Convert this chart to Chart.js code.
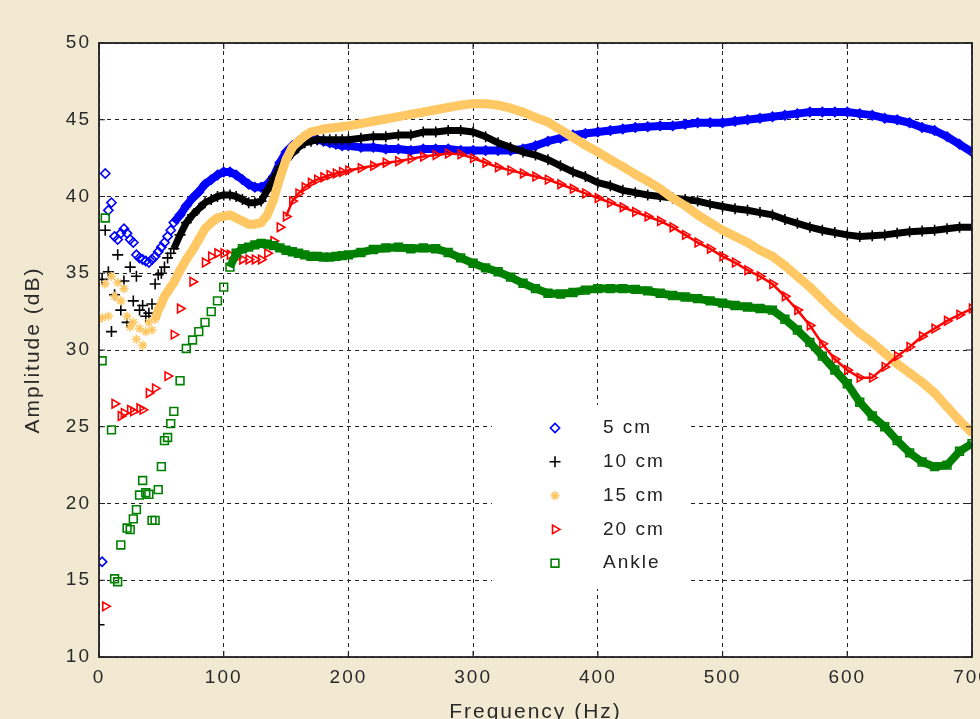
<!DOCTYPE html>
<html>
<head>
<meta charset="utf-8">
<title>Amplitude vs frequency</title>
<script src="https://cdn.jsdelivr.net/npm/chart.js"></script>
<style>
  html, body { margin: 0; padding: 0; background: #f1e9d2; overflow: hidden; }
  #wrap { width: 1010px; height: 719px; }
</style>
</head>
<body>
<div id="wrap"><canvas id="chart" width="1010" height="719"></canvas></div>
<script>
// Frequency grid (Hz), dense below 60 Hz where the points scatter
const freq = [
  0, 2.5, 5, 7.5, 10, 12.5, 15, 17.5, 20, 22.5, 25, 27.5, 30, 32.5, 35, 37.5, 40, 42.5, 45, 47.5, 50, 52.5, 55, 57.5, 60,
  65, 70, 75, 80, 85, 90, 95, 100, 105, 110, 115, 120, 125, 130, 135, 140, 145, 150, 155, 160, 165, 170, 175, 180, 185, 190, 195, 200,
  210, 220, 230, 240, 250, 260, 270, 280, 290, 300, 310, 320, 330, 340, 350, 360, 370, 380, 390, 400,
  410, 420, 430, 440, 450, 460, 470, 480, 490, 500, 510, 520, 530, 540, 550, 560, 570, 580, 590, 600,
  610, 620, 630, 640, 650, 660, 670, 680, 690, 700
];

// Amplitude (dB)
const amp5cm = [
  null, 16.2, 41.5, 39.1, 39.6, 37.4, 37.2, 37.6, 37.9, 37.6, 37.2, 37.0, 36.2, 36.0, 35.9, 35.8, 35.7, 35.9, 36.1, 36.4, 36.7, 37.0, 37.4, 37.8, 38.3,
  38.8, 39.4, 39.9, 40.3, 40.8, 41.1, 41.4, 41.6, 41.6, 41.4, 41.1, 40.8, 40.6, 40.6, 40.8, 41.3, 42.2, 42.9, 43.3, 43.6, 43.8, 43.8, 43.7, 43.6, 43.5, 43.4, 43.3, 43.3,
  43.2, 43.2, 43.1, 43.1, 43.0, 43.1, 43.1, 43.1, 43.0, 43.0, 43.0, 43.0, 43.0, 43.1, 43.3, 43.6, 43.8, 44.0, 44.1, 44.2,
  44.3, 44.4, 44.5, 44.55, 44.6, 44.6, 44.7, 44.8, 44.8, 44.8, 44.9, 45.0, 45.1, 45.2, 45.3, 45.4, 45.5, 45.5, 45.5, 45.5,
  45.4, 45.3, 45.1, 45.0, 44.8, 44.5, 44.3, 43.9, 43.4, 42.9
];
const amp10cm = [
  12.1, 34.6, 37.8, 35.1, 31.2, 33.6, 36.2, 32.6, 34.5, 31.8, 35.4, 33.2, 34.8, 32.6, 32.9, 32.2, 32.4, 33.0, 34.3, 34.9, 35.0, 35.4, 36.0, 36.3, 36.6,
  37.5, 38.3, 38.8, 39.2, 39.6, 39.8, 40.0, 40.1, 40.1, 40.0, 39.8, 39.6, 39.6, 39.7, 40.4, 41.2, 41.9, 42.4, 42.8, 43.2, 43.5, 43.6, 43.7, 43.7, 43.7, 43.7, 43.7, 43.7,
  43.8, 43.9, 43.9, 44.0, 44.0, 44.2, 44.2, 44.3, 44.3, 44.2, 43.9, 43.5, 43.2, 42.9, 42.7, 42.4, 42.0, 41.6, 41.3, 40.9,
  40.7, 40.4, 40.25, 40.1, 40.0, 39.9, 39.8, 39.7, 39.5, 39.35, 39.2, 39.1, 38.95, 38.8, 38.5, 38.25, 38.0, 37.8, 37.65, 37.5,
  37.4, 37.45, 37.5, 37.6, 37.7, 37.75, 37.8, 37.9, 38.0, 38.0
];
const amp15cm = [
  32.0, 32.1, 34.3, 32.2, 34.8, 33.5, 34.4, 33.2, 34.0, 32.2, 31.5, 31.8, 30.7, 31.4, 30.3, 31.2, 31.8, 31.3, 32.0, 32.6, 33.0, 33.5, 33.8, 34.1, 34.4,
  35.2, 35.9, 36.5, 37.2, 37.9, 38.3, 38.6, 38.7, 38.8, 38.6, 38.4, 38.2, 38.2, 38.3, 38.8, 39.8, 41.2, 42.4, 43.2, 43.6, 43.95, 44.2, 44.3, 44.4, 44.45, 44.5, 44.55, 44.6,
  44.75, 44.9, 45.05, 45.2, 45.35, 45.5, 45.65, 45.8, 45.95, 46.05, 46.05, 45.95, 45.75, 45.5, 45.15, 44.85, 44.35, 43.85, 43.35, 42.9,
  42.4, 41.95, 41.45, 41.0, 40.5, 39.9, 39.4, 38.8, 38.3, 37.8, 37.4, 37.0, 36.5, 36.1, 35.5, 34.8, 34.1, 33.3, 32.5, 31.8,
  31.1, 30.5, 29.8, 29.1, 28.5, 27.9, 27.2, 26.3, 25.4, 24.6
];
const amp20cm = [
  null, null, 13.3, null, null, 26.5, null, 25.7, 25.9, null, 26.1, 26.0, null, 26.2, 26.1, null, 27.2, null, 27.5, null, null, null, 28.3, null, 31.0,
  32.7, null, 34.45, null, 35.7, 36.1, 36.3, 36.3, 36.2, 36.0, 35.9, 35.9, 35.9, 35.9, 36.3, 37.1, 38.0, 38.7, 39.7, 40.2, 40.6, 40.9, 41.1, 41.25, 41.4, 41.5, 41.6, 41.7,
  41.85, 42.0, 42.2, 42.3, 42.45, 42.6, 42.7, 42.8, 42.75, 42.5, 42.2, 41.9, 41.7, 41.5, 41.3, 41.1, 40.8, 40.5, 40.2, 39.9,
  39.6, 39.3, 39.0, 38.7, 38.4, 38.0, 37.5, 37.0, 36.6, 36.1, 35.7, 35.2, 34.8, 34.3, 33.5, 32.6, 31.6, 30.4, 29.4, 28.7,
  28.2, 28.2, 28.9, 29.6, 30.2, 30.9, 31.4, 31.9, 32.3, 32.7
];
const ampAnkle = [
  null, 29.3, 38.6, null, 24.8, 15.1, 14.9, 17.3, null, 18.4, 18.3, 19.0, 19.6, 20.55, 21.5, 20.7, 20.6, 18.9, 18.9, 20.9, 22.4, 24.1, 24.3, 25.2, 26.0,
  28.0, 30.1, 30.65, 31.2, 31.8, 32.5, 33.2, 34.1, 35.4, 36.3, 36.6, 36.7, 36.85, 36.95, 36.9, 36.8, 36.65, 36.5, 36.4, 36.3, 36.2, 36.1, 36.1, 36.05, 36.05, 36.1, 36.15, 36.2,
  36.35, 36.55, 36.65, 36.7, 36.6, 36.65, 36.6, 36.35, 36.0, 35.65, 35.35, 35.1, 34.75, 34.35, 34.0, 33.7, 33.65, 33.75, 33.9, 34.0,
  34.0, 34.0, 33.95, 33.85, 33.7, 33.55, 33.45, 33.35, 33.2, 33.05, 32.9, 32.8, 32.7, 32.6, 32.0, 31.3, 30.5, 29.6, 28.7, 27.8,
  26.6, 25.7, 25.0, 24.1, 23.3, 22.7, 22.4, 22.5, 23.4, 23.9
];

const seriesLabels = ["5 cm", "10 cm", "15 cm", "20 cm", "Ankle"];

const FONT = '"Liberation Sans", Arial, sans-serif';
const CLEAR = "rgba(0,0,0,0)";

// one dataset; the dense part of each curve is drawn as a thick band
function makeSeries(label, values, color, style, radius, rotation, bandFrom, bandWidth, order) {
  return {
    label: label,
    data: freq.map((f, i) => ({ x: f, y: values[i] })),
    showLine: true,
    borderColor: color,
    borderWidth: bandWidth,
    borderJoinStyle: "round",
    segment: {
      borderColor: ctx => (ctx.p0.parsed.x >= bandFrom ? color : CLEAR)
    },
    pointStyle: style,
    pointRadius: radius,
    pointRotation: rotation,
    pointBorderColor: color,
    pointBackgroundColor: CLEAR,
    pointBorderWidth: 1.6,
    order: order
  };
}

// white plot area, frame, inward tick marks and the legend box, MATLAB style
const frameAndLegend = {
  id: "frameAndLegend",
  beforeDraw(chart) {
    const { ctx, chartArea: a } = chart;
    ctx.letterSpacing = "2px";
    ctx.save();
    ctx.fillStyle = "#fff";
    ctx.fillRect(a.left, a.top, a.right - a.left, a.bottom - a.top);
    ctx.restore();
  },
  afterDatasetsDraw(chart) {
    const { ctx, chartArea: a, scales } = chart;
    ctx.save();
    ctx.setLineDash([]);
    ctx.strokeStyle = "#222";
    ctx.lineWidth = 1.2;
    ctx.beginPath();
    scales.x.ticks.forEach(t => {
      const px = scales.x.getPixelForValue(t.value);
      ctx.moveTo(px, a.bottom); ctx.lineTo(px, a.bottom - 6);
      ctx.moveTo(px, a.top); ctx.lineTo(px, a.top + 6);
    });
    scales.y.ticks.forEach(t => {
      const py = scales.y.getPixelForValue(t.value);
      ctx.moveTo(a.left, py); ctx.lineTo(a.left + 6, py);
      ctx.moveTo(a.right, py); ctx.lineTo(a.right - 6, py);
    });
    ctx.stroke();
    ctx.lineWidth = 1.8;
    ctx.strokeRect(a.left, a.top, a.right - a.left, a.bottom - a.top);

    // legend
    ctx.fillStyle = "#fff";
    ctx.fillRect(492, 405, 197, 184);
    chart.data.datasets.forEach((ds, i) => {
      const y = 428 + i * 33.8;
      ctx.strokeStyle = ds.pointBorderColor;
      ctx.fillStyle = CLEAR;
      ctx.lineWidth = ds.pointBorderWidth;
      if (Chart.helpers && Chart.helpers.drawPoint) {
        Chart.helpers.drawPoint(ctx, {
          pointStyle: ds.pointStyle,
          radius: ds.pointRadius,
          rotation: ds.pointRotation,
          borderWidth: ds.pointBorderWidth
        }, 555, y);
      }
      ctx.fillStyle = "#222";
      ctx.font = "19px " + FONT;
      ctx.textAlign = "left";
      ctx.textBaseline = "middle";
      ctx.fillText(ds.label, 603, y);
    });
    ctx.restore();
  }
};

const ctx = document.getElementById("chart").getContext("2d");
new Chart(ctx, {
  type: "scatter",
  data: {
    datasets: [
      makeSeries(seriesLabels[0], amp5cm, "#0000ff", "rectRot", 4.6, 0, 60, 8, 4),
      makeSeries(seriesLabels[1], amp10cm, "#000000", "cross", 5.5, 0, 60, 7, 3),
      makeSeries(seriesLabels[2], amp15cm, "#ffc864", "star", 4.6, 0, 45, 9, 2),
      makeSeries(seriesLabels[3], amp20cm, "#ff0000", "triangle", 5, 90, 150, 2.5, 1),
      makeSeries(seriesLabels[4], ampAnkle, "#008000", "rect", 5.5, 0, 105, 8, 0)
    ]
  },
  options: {
    responsive: false,
    animation: false,
    events: [],
    layout: { padding: { left: 0, top: 43, right: 38, bottom: 0 } },
    plugins: {
      legend: { display: false },
      tooltip: { enabled: false }
    },
    scales: {
      x: {
        type: "linear",
        min: 0,
        max: 700,
        ticks: { stepSize: 100, color: "#2a2a2a", font: { family: FONT, size: 19 }, padding: 9, maxRotation: 0 },
        grid: { color: "#222", lineWidth: 1, drawTicks: false },
        border: { display: false, dash: [4, 4] },
        title: { display: true, text: "Frequency (Hz)", color: "#2a2a2a", font: { family: FONT, size: 21 }, padding: { top: -9, bottom: -6 } },
        afterFit: scale => { scale.height = 62; }
      },
      y: {
        min: 10,
        max: 50,
        ticks: { stepSize: 5, color: "#2a2a2a", font: { family: FONT, size: 19 }, padding: 8 },
        grid: { color: "#222", lineWidth: 1, drawTicks: false },
        border: { display: false, dash: [4, 4] },
        title: { display: true, text: "Amplitude (dB)", color: "#2a2a2a", font: { family: FONT, size: 21 }, padding: { top: 21, bottom: 0 } },
        afterFit: scale => { scale.width = 99; }
      }
    }
  },
  plugins: [frameAndLegend]
});
</script>
</body>
</html>
